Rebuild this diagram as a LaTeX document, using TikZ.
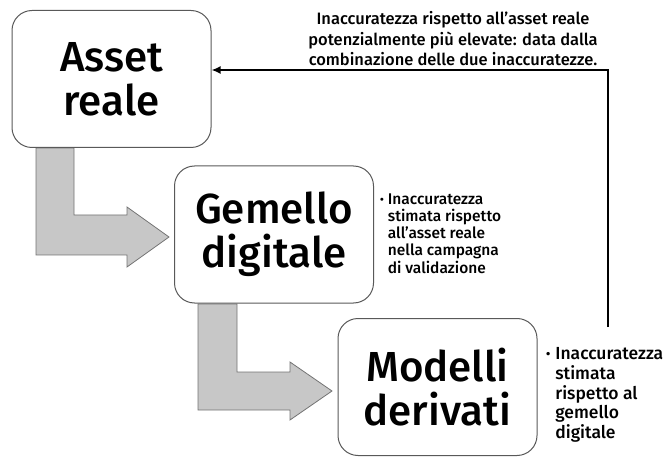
\documentclass[tikz,border=0pt]{standalone}
\usepackage{fontspec}
\setmainfont{Fira Sans}[UprightFont={* Medium}]
\usepackage{tikz}
\usetikzlibrary{calc,arrows.meta,positioning}
\tikzset{
  box/.style={draw=black!65, line width=1pt, rounded corners=20pt, minimum width=199pt, minimum height=137pt, align=center, inner sep=0pt, font=\fontsize{42}{44}\selectfont},
  bent/.style={draw=black!55, fill=black!22, line width=0.8pt},
  note/.style={anchor=north west, inner sep=0pt, align=left},
  back/.style={line width=2.5pt, -{Latex[length=9pt,width=8pt]}},
}

\begin{document}
\begin{tikzpicture}[x=1pt,y=-1pt]
    \useasboundingbox (0,0) rectangle (667,457);
    % bent block arrows
    \draw[bent] (36,148) -- (74,148) -- (74,215) -- (127,215) -- (127,207) -- (169,237)
      -- (127,267) -- (127,255) -- (36,255) -- cycle;
    \draw[bent] (198,304) -- (237,304) -- (237,372) -- (290,372) -- (290,362) -- (332,391)
      -- (290,420) -- (290,410) -- (198,410) -- cycle;
    \node (asset) [box] at (111.5,79) {Asset\\reale};
    \node (gemello) [box] at (274,234.5) {Gemello\\digitale};
    \node (modelli) [box] at (437.5,387) {Modelli\\derivati};
    \node (nota1) [note,font=\fontsize{15.5}{17}\selectfont] at (380,192) {%
      \begin{tabular}{@{}l@{\hspace{4pt}}l@{}}
      {\bfseries ·} & Inaccuratezza\\
       & stimata rispetto\\
       & all’asset reale\\
       & nella campagna\\
       & di validazione
      \end{tabular}};
    \node (nota2) [note,font=\fontsize{17.5}{19.5}\selectfont] at (546,346) {%
      \begin{tabular}{@{}l@{\hspace{5pt}}l@{}}
      {\bfseries ·} & Inaccuratezza\\
       & stimata\\
       & rispetto al\\
       & gemello\\
       & digitale
      \end{tabular}};
    \node (totale) [align=center,inner sep=0pt,font=\fontsize{16.5}{20.5}\selectfont] at (453,39)
      {Inaccuratezza rispetto all'asset reale\\potenzialmente più elevate: data dalla\\combinazione delle due inaccuratezze.};
    \coordinate (ritorno) at (608,327);
    \draw[back] (ritorno) |- ([yshift=9pt]asset.east);
\end{tikzpicture}
\end{document}
